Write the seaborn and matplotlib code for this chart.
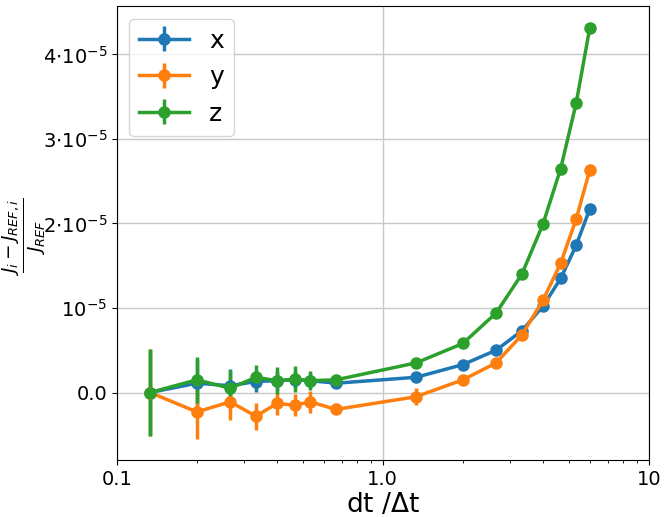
import numpy as np
import matplotlib
matplotlib.use("Agg")
import matplotlib.pyplot as plt
import matplotlib.ticker as mticker
import seaborn as sns

# step ratios dt / Δt
dt_ratio = [2/15, 3/15, 4/15, 5/15, 6/15, 7/15, 8/15, 10/15,
            20/15, 30/15, 40/15, 50/15, 60/15, 70/15, 80/15, 90/15]

# relative deviation (units of 1e-5)
dev_x = [0.0, 0.11, 0.08, 0.13, 0.14, 0.15, 0.14, 0.11,
         0.18, 0.33, 0.50, 0.73, 1.02, 1.35, 1.74, 2.17]
dev_y = [0.0, -0.23, -0.11, -0.28, -0.13, -0.15, -0.11, -0.20,
         -0.05, 0.15, 0.35, 0.68, 1.09, 1.53, 2.05, 2.63]
dev_z = [0.0, 0.15, 0.05, 0.18, 0.14, 0.16, 0.14, 0.15,
         0.35, 0.58, 0.94, 1.40, 1.99, 2.65, 3.42, 4.31]

# error bars (units of 1e-5)
err_x = [0.50, 0.28, 0.20, 0.12, 0.12, 0.10, 0.09, 0.06,
         0.04, 0.03, 0.03, 0.03, 0.03, 0.03, 0.03, 0.03]
err_y = [0.52, 0.32, 0.21, 0.16, 0.14, 0.13, 0.13, 0.06,
         0.10, 0.03, 0.03, 0.03, 0.03, 0.03, 0.03, 0.03]
err_z = [0.51, 0.27, 0.22, 0.14, 0.16, 0.15, 0.11, 0.06,
         0.04, 0.03, 0.03, 0.03, 0.03, 0.03, 0.03, 0.03]

labels = ["x", "y", "z"]

colors = sns.color_palette("tab10", 3)

fig, ax = plt.subplots(figsize=(6.64, 5.17), dpi=100)
fig.subplots_adjust(left=0.176, right=0.977, top=0.988, bottom=0.110)

for dev, err, lab, col in zip([dev_x, dev_y, dev_z], [err_x, err_y, err_z], labels, colors):
    ax.errorbar(dt_ratio, np.array(dev) * 1e-5, yerr=np.array(err) * 1e-5,
                label=lab, color=col, marker="o", markersize=8, linewidth=2.5,
                elinewidth=2.5)

ax.set_xscale("log")
ax.set_xlim(0.1, 10)
ax.set_ylim(-0.80e-5, 4.57e-5)

ax.set_xticks([0.1, 1, 10])
ax.xaxis.set_major_formatter(mticker.FixedFormatter(["0.1", "1.0", "10"]))
ax.set_yticks([0, 1e-5, 2e-5, 3e-5, 4e-5])
ax.set_yticklabels(["0.0", r"$10^{-5}$", r"$2{\cdot}10^{-5}$",
                    r"$3{\cdot}10^{-5}$", r"$4{\cdot}10^{-5}$"])
ax.tick_params(labelsize=14)

ax.grid(True, which="major", color="#c8c8c8", linewidth=1)
ax.set_axisbelow(True)

ax.set_xlabel(r"dt /$\Delta$t", fontsize=19, labelpad=2)
# y label placed by hand so the tall fraction stays inside the figure
fig.text(24 / 664, 1 - 237 / 517, r"$\frac{J_i - J_{REF,i}}{J_{REF}}$",
         fontsize=19, rotation=90, ha="center", va="center")

ax.legend(loc="upper left", fontsize=18, handlelength=2.0)

fig.savefig("out.png", dpi=100)
